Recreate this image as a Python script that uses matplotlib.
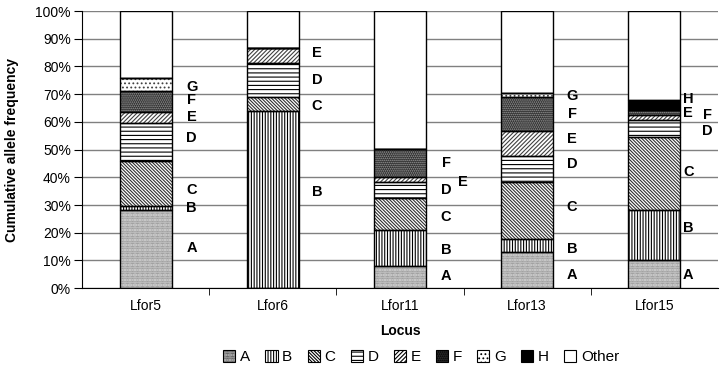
import matplotlib
matplotlib.use("Agg")
import matplotlib.pyplot as plt
import matplotlib.transforms as mtransforms
from matplotlib.patches import Patch
import numpy as np

plt.rcParams['font.family'] = ['Liberation Sans', 'DejaVu Sans']

loci = ["Lfor5", "Lfor6", "Lfor11", "Lfor13", "Lfor15"]
alleles = ["A", "B", "C", "D", "E", "F", "G", "H"]

# allele frequency (%) per locus
freq_A = [28.2, 0.0, 7.9, 13.1, 10.1]
freq_B = [1.5, 63.9, 13.0, 4.5, 18.1]
freq_C = [16.3, 5.2, 11.7, 20.8, 26.4]
freq_D = [13.5, 12.0, 5.8, 9.3, 6.0]
freq_E = [4.1, 5.4, 1.8, 9.0, 1.9]
freq_F = [7.5, 0.0, 9.9, 12.1, 1.8]
freq_G = [4.8, 0.0, 0.0, 1.7, 0.0]
freq_H = [0.0, 0.0, 0.0, 0.0, 3.6]

# letters written next to each bar: (letter, height in %, x shift in px)
bar_labels = {
    "Lfor5": [("A", 14.4, 0), ("B", 28.9, 0), ("C", 35.4, 0), ("D", 54.2, 0),
              ("E", 61.7, 0), ("F", 67.9, 0), ("G", 72.6, 0)],
    "Lfor6": [("B", 34.8, -2), ("C", 65.7, -2), ("D", 75.1, -2), ("E", 84.7, -2)],
    "Lfor11": [("A", 4.3, 0), ("B", 13.7, 0), ("C", 25.7, 0), ("D", 35.4, 0),
               ("E", 38.4, 17), ("F", 45.0, 0)],
    "Lfor13": [("A", 4.7, -1), ("B", 14.3, -1), ("C", 29.4, -1), ("D", 44.7, -1),
               ("E", 53.7, -1), ("F", 62.8, -1), ("G", 69.3, -1)],
    "Lfor15": [("A", 4.7, -12), ("B", 21.6, -12), ("C", 42.0, -12), ("D", 56.8, 7),
               ("E", 63.3, -12), ("F", 62.5, 7), ("H", 68.2, -12)],
}

series = [freq_A, freq_B, freq_C, freq_D, freq_E, freq_F, freq_G, freq_H]
other = 100 - np.sum(series, axis=0)

# (face, hatch, hatch colour)
styles = {
    "A": ("white", "..........", "#606060"),
    "B": ("white", "||||||", "black"),
    "C": ("white", "\\" * 10, "#303030"),
    "D": ("white", "----", "black"),
    "E": ("white", "/" * 8, "#404040"),
    "F": ("#2a2a2a", "........", "#a0a0a0"),
    "G": ("white", "....", "#404040"),
    "H": ("black", "", "black"),
    "Other": ("white", "", "black"),
}

fig = plt.figure(figsize=(7.2, 3.68), dpi=100)
ax = fig.add_axes([0.114, 0.217, 0.883, 0.753])

x = np.arange(len(loci))
width = 0.41
plt.rcParams['hatch.linewidth'] = 0.8

bottom = np.zeros(len(loci))
for name, vals in zip(alleles + ["Other"], series + [other]):
    face, hatch, hcol = styles[name]
    ax.bar(x, vals, width, bottom=bottom, color=face, edgecolor=hcol,
           hatch=hatch, linewidth=0, zorder=2)
    ax.bar(x, vals, width, bottom=bottom, fill=False, edgecolor="black",
           linewidth=1.0, zorder=3)
    bottom += np.array(vals)

for i, locus in enumerate(loci):
    for letter, yv, dx in bar_labels[locus]:
        tr = mtransforms.offset_copy(ax.transData, fig=fig, x=20 + dx, y=0, units='dots')
        ax.text(i + width / 2, yv, letter, transform=tr, ha="center", va="center",
                fontsize=10.5, fontweight="bold", zorder=4)

ax.set_xlim(-0.5, len(loci) - 0.5)
ax.set_ylim(0, 100)
ax.set_yticks(np.arange(0, 101, 10))
ax.set_yticklabels(["{}%".format(v) for v in range(0, 101, 10)], fontsize=10)
ax.yaxis.grid(True, color="#808080", linewidth=1.0, zorder=0)
ax.set_axisbelow(True)

ax.set_xticks(x)
ax.set_xticklabels(loci, fontsize=10)
ax.set_xticks(np.arange(0.5, len(loci) - 0.5, 1), minor=True)
ax.tick_params(axis="x", which="major", length=0, pad=8)
ax.tick_params(axis="x", which="minor", length=5, direction="out")
ax.tick_params(axis="y", length=6, direction="out", pad=2)

for s in ["top", "right"]:
    ax.spines[s].set_visible(False)
ax.spines["left"].set_color("black")
ax.spines["bottom"].set_color("black")

ax.set_xlabel("Locus", fontsize=10, fontweight="bold", labelpad=8)
ax.set_ylabel("Cumulative allele frequency", fontsize=10, fontweight="bold", labelpad=12)

handles = []
for name in alleles + ["Other"]:
    face, hatch, hcol = styles[name]
    handles.append(Patch(facecolor=face, edgecolor="black", hatch=hatch, linewidth=0.8))
fig.legend(handles, alleles + ["Other"], loc="center", bbox_to_anchor=(0.585, 0.03),
           ncol=9, frameon=False, fontsize=11, handlelength=0.8, handleheight=0.8,
           handletextpad=0.3, columnspacing=1.0)

fig.savefig("out.png", dpi=100)
